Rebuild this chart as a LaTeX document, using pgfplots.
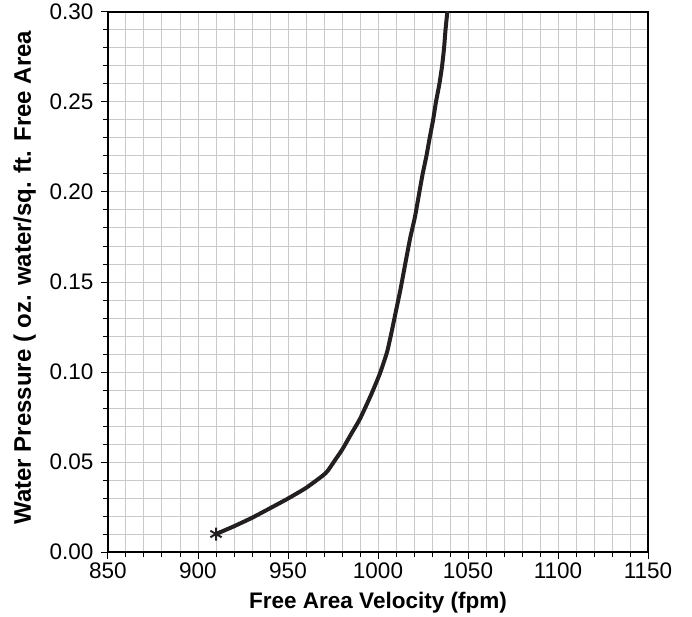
\documentclass[border=0pt]{standalone}
\usepackage{pgfplots}
\pgfplotsset{compat=1.18}
\usepackage{fontspec}
\setmainfont{Liberation Sans}
\definecolor{curve}{HTML}{231F20}
\begin{document}
\begin{tikzpicture}
\begin{axis}[
  scale only axis,
  width=540pt, height=540pt,
  xmin=850, xmax=1150, ymin=0, ymax=0.30,
  xtick={850,900,...,1150},
  ytick={0,0.05,...,0.30},
  minor x tick num=4,
  minor y tick num=4,
  grid=both,
  major grid style={black!21, line width=1pt},
  minor grid style={black!21, line width=1pt},
  tick align=outside,
  xtick pos=bottom, ytick pos=left,
  major tick length=7pt,
  minor tick length=5pt,
  every tick/.style={black, line width=1pt},
  axis line style={black, line width=1.6pt},
  /pgf/number format/assume math mode=true,
  yticklabel style={/pgf/number format/fixed, /pgf/number format/fixed zerofill, /pgf/number format/precision=2, xshift=-4pt},
  xticklabel style={/pgf/number format/set thousands separator={}},
  tick label style={font=\fontsize{22.5}{26}\selectfont, black},
  xlabel={Free Area Velocity (fpm)},
  ylabel={Water Pressure ( oz. water/sq. ft. Free Area},
  xlabel style={font=\fontsize{22.5}{26}\selectfont\bfseries, at={([yshift=-56pt]axis description cs:0.5,0)}, anchor=base},
  ylabel style={font=\fontsize{24}{28}\selectfont\bfseries, at={([xshift=-77pt]axis description cs:0,0.508)}, anchor=base, rotate=0},
]
\addplot[curve, line width=4pt, line join=round, line cap=round, smooth, tension=0.35] coordinates {
(910,0.010)
(920,0.0143)
(930,0.0190)
(940,0.0243)
(950,0.0297)
(960,0.0356)
(969,0.0422)
(972,0.0450)
(976.7,0.0519)
(980,0.0567)
(985,0.0654)
(990,0.0740)
(996,0.087)
(1001,0.099)
(1005,0.111)
(1007.5,0.122)
(1010,0.134)
(1012.5,0.146)
(1015.5,0.162)
(1018,0.175)
(1020.5,0.186)
(1023,0.200)
(1024.8,0.210)
(1026.9,0.220)
(1028.7,0.230)
(1030.6,0.240)
(1032.2,0.250)
(1034.1,0.260)
(1035.6,0.270)
(1036.7,0.280)
(1037.5,0.290)
(1038.5,0.300)
};
\addplot[curve, only marks, mark=asterisk, mark size=6.5pt, mark options={line width=2pt}] coordinates {(910,0.010)};
\end{axis}
\path ([xshift=-108pt,yshift=-63pt]current axis.south west) rectangle ([xshift=44pt,yshift=12pt]current axis.north east);
\end{tikzpicture}
\end{document}
